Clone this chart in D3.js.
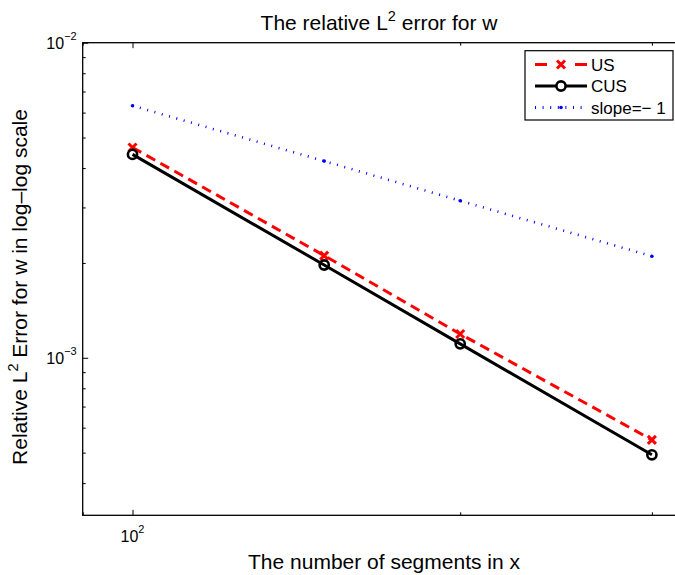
<!DOCTYPE html>
<html>
<head>
<meta charset="utf-8">
<script src="https://cdn.jsdelivr.net/npm/d3@7"></script>
<style>
  body { margin: 0; background: #fff; }
  svg { display: block; font-family: "Liberation Sans", Arial, sans-serif; }
</style>
</head>
<body>
<svg width="675" height="575"></svg>
<script>
// data
const segments = [100, 150, 200, 300];
const usErr = [4.65e-3, 2.11e-3, 1.19e-3, 5.49e-4];
const cusErr = [4.42e-3, 1.97e-3, 1.107e-3, 4.92e-4];
const slopeRef = [6.31e-3, 4.21e-3, 3.15e-3, 2.10e-3];

const xDomain = [90, 320];
const yDomain = [Math.pow(10, -3.5), 1e-2];
const xMajor = [100];
const xMinor = [90, 200, 300];
const yMajor = [1e-3, 1e-2];
const yMinor = [4e-4, 5e-4, 6e-4, 7e-4, 8e-4, 9e-4, 2e-3, 3e-3, 4e-3, 5e-3, 6e-3, 7e-3, 8e-3, 9e-3];
const legendLabels = ['US', 'CUS', 'slope=\u2212 1'];

const svg = d3.select('svg');
const pL = 82.7, pT = 42.7, pR = 682.4, pB = 515.3;

const x = d3.scaleLog().domain(xDomain).range([pL, pR]);
const y = d3.scaleLog().domain(yDomain).range([pB, pT]);

// ticks (inside, matlab style)
function ticks(axisFn, scale, vals, size, transform) {
  svg.append('g')
    .attr('transform', transform)
    .call(axisFn(scale).tickValues(vals).tickSize(-size).tickFormat(''))
    .call(g => g.select('.domain').remove())
    .selectAll('line').attr('stroke', '#000').attr('stroke-width', 1);
}
ticks(d3.axisBottom, x, xMajor, 5.5, `translate(0,${pB})`);
ticks(d3.axisBottom, x, xMinor, 3, `translate(0,${pB})`);
ticks(d3.axisTop, x, xMajor, 5.5, `translate(0,${pT})`);
ticks(d3.axisTop, x, xMinor, 3, `translate(0,${pT})`);
ticks(d3.axisLeft, y, yMajor, 5.5, `translate(${pL},0)`);
ticks(d3.axisLeft, y, yMinor, 3, `translate(${pL},0)`);

svg.append('rect')
  .attr('x', pL).attr('y', pT)
  .attr('width', pR - pL).attr('height', pB - pT)
  .attr('fill', 'none').attr('stroke', '#000').attr('stroke-width', 1.3);

// tick labels
yMajor.forEach(v => {
  const t = svg.append('text')
    .attr('x', pL - 6).attr('y', y(v) + 6)
    .attr('text-anchor', 'end').attr('font-size', 16);
  t.append('tspan').text('10');
  t.append('tspan').attr('dy', -9).attr('font-size', 11).text('\u2212' + Math.round(-Math.log10(v)));
});
xMajor.forEach(v => {
  const t = svg.append('text')
    .attr('x', x(v) - 12).attr('y', pB + 27)
    .attr('font-size', 16);
  t.append('tspan').text('10');
  t.append('tspan').attr('dy', -9).attr('font-size', 11).text(Math.round(Math.log10(v)));
});

// titles
const title = svg.append('text')
  .attr('x', 379).attr('y', 30)
  .attr('text-anchor', 'middle').attr('font-size', 21);
title.append('tspan').text('The relative L');
title.append('tspan').attr('dy', -9).attr('font-size', 14.5).text('2');
title.append('tspan').attr('dy', 9).text(' error for w');

svg.append('text')
  .attr('x', 384).attr('y', 569)
  .attr('text-anchor', 'middle').attr('font-size', 21)
  .text('The number of segments in x');

const ylab = svg.append('text')
  .attr('transform', `translate(27,${(pT + pB) / 2 + 8}) rotate(-90)`)
  .attr('text-anchor', 'middle').attr('font-size', 21);
ylab.append('tspan').text('Relative L');
ylab.append('tspan').attr('dy', -9).attr('font-size', 14.5).text('2');
ylab.append('tspan').attr('dy', 9).text(' Error for w in log\u2013log scale');

// series
const line = d3.line().x(d => x(d[0])).y(d => y(d[1]));
const zip = vals => segments.map((s, i) => [s, vals[i]]);

svg.append('path').datum(zip(slopeRef)).attr('d', line)
  .attr('fill', 'none').attr('stroke', '#0000ff').attr('stroke-width', 2.6)
  .attr('stroke-dasharray', '1,6.6');
svg.selectAll('.sdot').data(zip(slopeRef)).join('circle')
  .attr('cx', d => x(d[0])).attr('cy', d => y(d[1])).attr('r', 1.8).attr('fill', '#0000ff');

svg.append('path').datum(zip(usErr)).attr('d', line)
  .attr('fill', 'none').attr('stroke', '#ff0000').attr('stroke-width', 3)
  .attr('stroke-dasharray', '10,6');

function cross(g, cx, cy) {
  g.append('path')
    .attr('d', `M${cx - 4},${cy - 4}L${cx + 4},${cy + 4}M${cx - 4},${cy + 4}L${cx + 4},${cy - 4}`)
    .attr('stroke', '#ff0000').attr('stroke-width', 3).attr('fill', 'none');
}
zip(usErr).forEach(d => cross(svg, x(d[0]), y(d[1])));

svg.append('path').datum(zip(cusErr)).attr('d', line)
  .attr('fill', 'none').attr('stroke', '#000').attr('stroke-width', 3);
svg.selectAll('.cmark').data(zip(cusErr)).join('circle')
  .attr('cx', d => x(d[0])).attr('cy', d => y(d[1])).attr('r', 4.6)
  .attr('fill', 'none').attr('stroke', '#000').attr('stroke-width', 2.6);

// legend
const lg = svg.append('g');
lg.append('rect').attr('x', 525).attr('y', 50.7).attr('width', 148).attr('height', 69.3)
  .attr('fill', '#fff').attr('stroke', '#000').attr('stroke-width', 1.2);
const rowY = [64.5, 86, 107.5];
lg.append('line').attr('x1', 535).attr('x2', 587).attr('y1', rowY[0]).attr('y2', rowY[0])
  .attr('stroke', '#ff0000').attr('stroke-width', 3).attr('stroke-dasharray', '12,40');
lg.append('line').attr('x1', 575).attr('x2', 587).attr('y1', rowY[0]).attr('y2', rowY[0])
  .attr('stroke', '#ff0000').attr('stroke-width', 3);
cross(lg, 561, rowY[0]);
lg.append('line').attr('x1', 535).attr('x2', 587).attr('y1', rowY[1]).attr('y2', rowY[1])
  .attr('stroke', '#000').attr('stroke-width', 3);
lg.append('circle').attr('cx', 561).attr('cy', rowY[1]).attr('r', 4.6)
  .attr('fill', '#fff').attr('stroke', '#000').attr('stroke-width', 2.6);
lg.append('line').attr('x1', 535).attr('x2', 587).attr('y1', rowY[2]).attr('y2', rowY[2])
  .attr('stroke', '#0000ff').attr('stroke-width', 3).attr('stroke-dasharray', '1,6.6');
lg.append('circle').attr('cx', 561).attr('cy', rowY[2]).attr('r', 1.8).attr('fill', '#0000ff');
legendLabels.forEach((t, i) => {
  lg.append('text').attr('x', 591).attr('y', rowY[i] + 6).attr('font-size', 17).text(t);
});
</script>
</body>
</html>
